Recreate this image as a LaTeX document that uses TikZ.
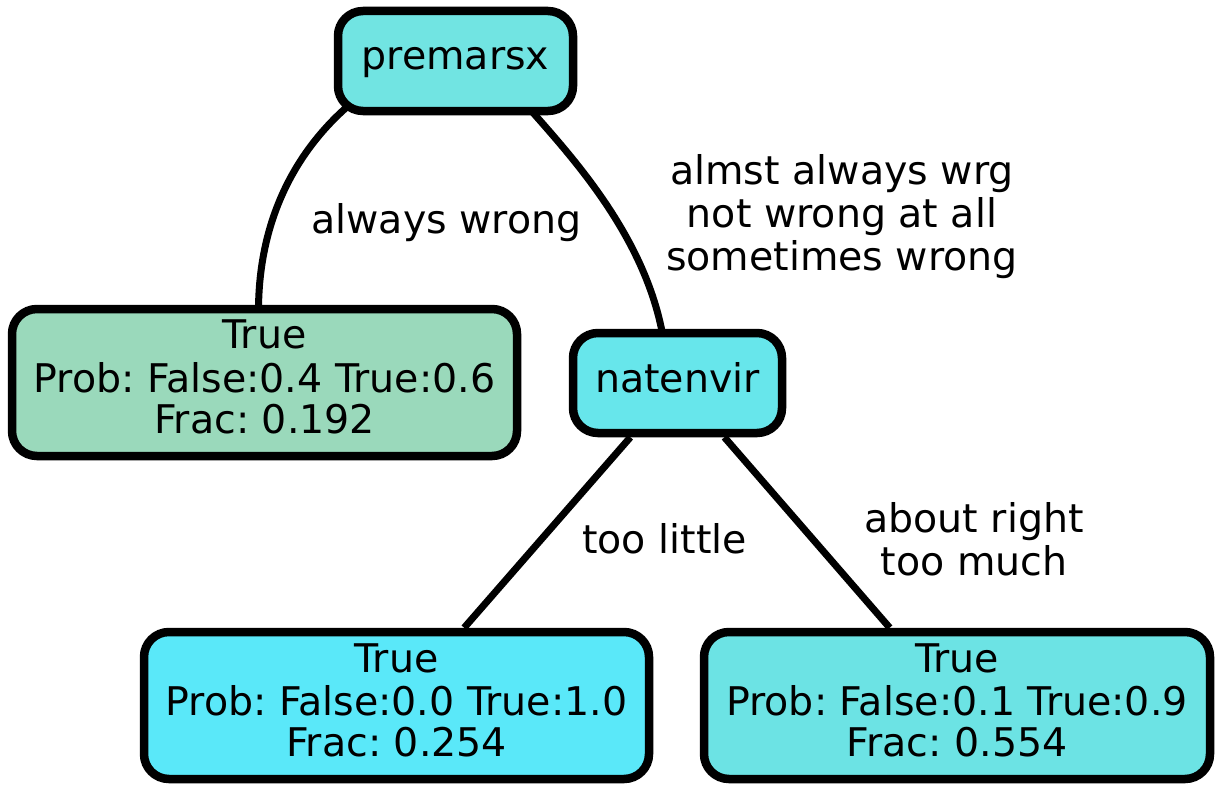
\documentclass[tikz,border=0pt]{standalone}
\usepackage{fontspec}
\setmainfont{DejaVu Sans}
\usetikzlibrary{backgrounds}
\frenchspacing
\newcommand\mystrut{\rule[-12pt]{0pt}{41.5pt}}
\definecolor{cPrem}{HTML}{71E4E2}
\definecolor{cGreen}{HTML}{9AD9BB}
\definecolor{cNat}{HTML}{67E6EB}
\definecolor{cLeafB}{HTML}{5AE8F9}
\definecolor{cLeafC}{HTML}{6CE3E4}
\begin{document}
\begin{tikzpicture}[x=1pt,y=-1pt,
  box/.style={draw=black, line width=8.5pt, rounded corners=25pt, inner sep=0pt, align=center,
    font=\fontsize{39.5pt}{41.5pt}\selectfont},
  lbl/.style={inner sep=0pt, align=center, font=\fontsize{39.5pt}{41.5pt}\selectfont},
  edge/.style={draw=black, line width=7pt}]
\useasboundingbox (0,0) rectangle (1217,792);

\node[box, fill=cPrem, minimum width=235pt, minimum height=100pt] (premarsx) at (455.5,61) {\mystrut premarsx};
\node[box, fill=cGreen, minimum width=505pt, minimum height=147pt] (leafA) at (264.5,382.5)
  {\mystrut True\\\mystrut Prob: False:0.4 True:0.6\\\mystrut Frac: 0.192};
\node[box, fill=cNat, minimum width=209pt, minimum height=100pt] (natenvir) at (677.5,383) {\mystrut natenvir};
\node[box, fill=cLeafB, minimum width=505pt, minimum height=147pt] (leafB) at (396.5,705.5)
  {\mystrut True\\\mystrut Prob: False:0.0 True:1.0\\\mystrut Frac: 0.254};
\node[box, fill=cLeafC, minimum width=506pt, minimum height=147pt] (leafC) at (957,705.5)
  {\mystrut True\\\mystrut Prob: False:0.1 True:0.9\\\mystrut Frac: 0.554};

\node[lbl] (lw) at (446.5,224) {\mystrut always wrong};
\node[lbl] (lr) at (842,218.5) {\mystrut almst always wrg\\\mystrut not wrong at all\\\mystrut sometimes wrong};
\node[lbl] (ll) at (664.5,544) {\mystrut too little};
\node[lbl] (lm) at (974,545) {\mystrut about right\\\mystrut too much};

\begin{pgfonlayer}{background}
\draw[edge] ([xshift=14pt,yshift=9pt]premarsx.south west) .. controls (300,148) and (258,215) .. ([xshift=-6pt,yshift=-8pt]leafA.north);
\draw[edge] ([xshift=-49pt,yshift=8pt]premarsx.south east) .. controls (570,155) and (645,235) .. ([xshift=-14.5pt,yshift=-8pt]natenvir.north);
\draw[edge] (natenvir) -- (leafB);
\draw[edge] (natenvir) -- (leafC);
\end{pgfonlayer}
\end{tikzpicture}
\end{document}
